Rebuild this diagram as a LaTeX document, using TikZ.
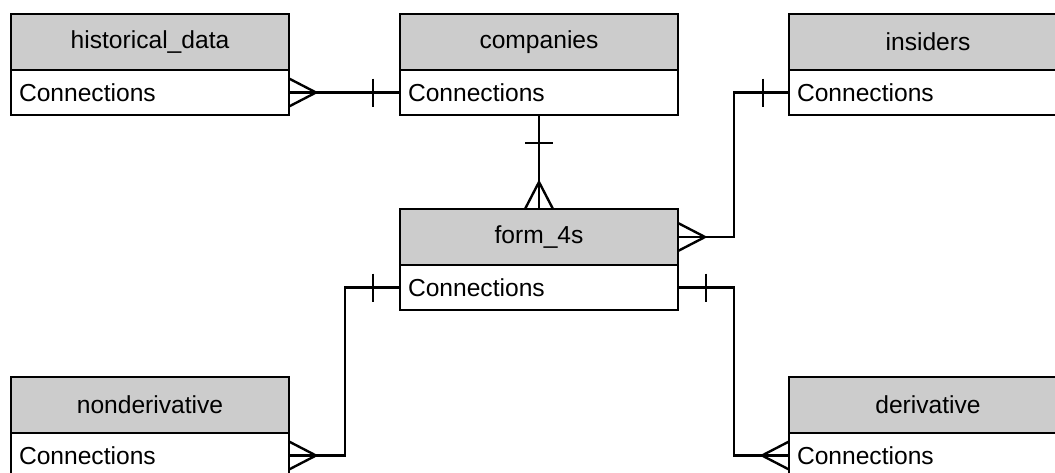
\documentclass[tikz,border=0pt]{standalone}
\usepackage{fontspec}
\setmainfont{Liberation Sans}
\usetikzlibrary{positioning, calc}
\definecolor{headgray}{RGB}{204, 204, 204}

\begin{document}
\begin{tikzpicture}[
    node distance=2.775cm,
    every node/.style={font=\fontsize{17.5}{21}\selectfont, outer sep=0pt},
    entity/.style={rectangle, draw=black, fill=headgray, line width=1.4pt, minimum width=6.95cm, minimum height=1.4cm, align=center},
    fields/.style={rectangle, draw=black, fill=white, line width=1.4pt, minimum width=6.95cm, minimum height=1.125cm, inner xsep=0.2cm, text width=6.55cm, align=left},
    conn/.style={line width=1.7pt, black}
]
\clip (0,0) rectangle (26.375,-11.8);

% Tables, top row
\node[entity] (comp) at (13.475,-1.05) {companies};
\node[fields, below=0pt of comp] (comp-row) {Connections};
\node[entity, left=of comp] (hist) {historical\_data};
\node[fields, below=0pt of hist] (hist-row) {Connections};
\node[entity, right=of comp] (ins) {insiders};
\node[fields, below=0pt of ins] (ins-row) {Connections};

% Middle table
\node[entity, below=2.35cm of comp-row] (form) {form\_4s};
\node[fields, below=0pt of form] (form-row) {Connections};

% Bottom row
\node[entity] (nonder) at (3.75,-10.125) {nonderivative};
\node[fields, below=0pt of nonder] (nonder-row) {Connections};
\node[entity] (deriv) at (23.2,-10.125) {derivative};
\node[fields, below=0pt of deriv] (deriv-row) {Connections};

% Relations
\draw[conn] (hist-row.east) -- (comp-row.west);
\draw[conn] ($(hist-row.east)+(0,0.35)$) -- ($(hist-row.east)+(0.675,0)$) -- ($(hist-row.east)+(0,-0.35)$);
\draw[conn] ($(comp-row.west)+(-0.675,0.35)$) -- ++(0,-0.7);

\draw[conn] (comp-row.south) -- (form.north);
\draw[conn] ($(comp-row.south)+(-0.35,-0.7)$) -- ++(0.7,0);
\draw[conn] ($(form.north)+(-0.35,0)$) -- ($(form.north)+(0,0.675)$) -- ($(form.north)+(0.35,0)$);

\draw[conn] (form.east) -- ++(1.4,0) |- (ins-row.west);
\draw[conn] ($(form.east)+(0,0.35)$) -- ($(form.east)+(0.675,0)$) -- ($(form.east)+(0,-0.35)$);
\draw[conn] ($(ins-row.west)+(-0.65,0.35)$) -- ++(0,-0.7);

\draw[conn] (form-row.west) -- ++(-1.375,0) |- (nonder-row.east);
\draw[conn] ($(form-row.west)+(-0.675,0.35)$) -- ++(0,-0.7);
\draw[conn] ($(nonder-row.east)+(0,0.35)$) -- ($(nonder-row.east)+(0.675,0)$) -- ($(nonder-row.east)+(0,-0.35)$);

\draw[conn] (form-row.east) -- ++(1.4,0) |- (deriv-row.west);
\draw[conn] ($(form-row.east)+(0.7,0.35)$) -- ++(0,-0.7);
\draw[conn] ($(deriv-row.west)+(0,0.35)$) -- ($(deriv-row.west)+(-0.675,0)$) -- ($(deriv-row.west)+(0,-0.35)$);

\end{tikzpicture}
\end{document}
